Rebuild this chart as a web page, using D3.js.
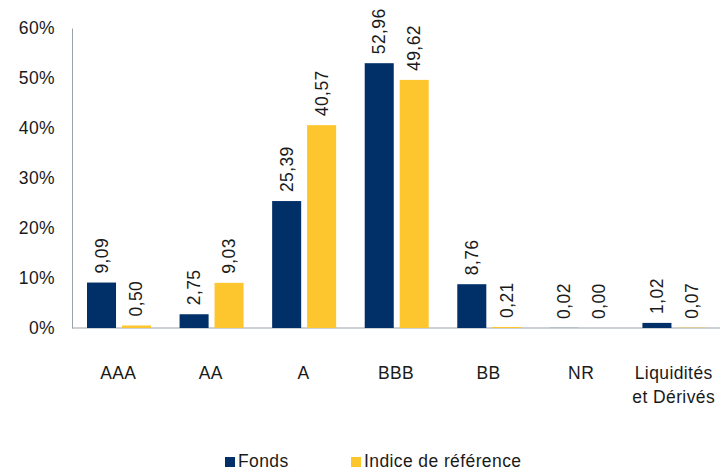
<!DOCTYPE html>
<meta charset="utf-8">
<head>
<style>
  body { margin:0; background:#fff; }
  text { font-family: Arial, "Liberation Sans", sans-serif; fill:#1a1a1a; letter-spacing: 0.4px; }
</style>
<script src="https://d3js.org/d3.v7.min.js"></script>
</head>
<body>
<script>
var categories = ["AAA", "AA", "A", "BBB", "BB", "NR", "Liquidités\net Dérivés"];
var fonds = [9.09, 2.75, 25.39, 52.96, 8.76, 0.02, 1.02];
var indice = [0.50, 9.03, 40.57, 49.62, 0.21, 0.00, 0.07];
var yTicks = [0, 10, 20, 30, 40, 50, 60];
var seriesNames = ["Fonds", "Indice de référence"];
var colors = ["#013068", "#FDC52E"];

var width = 722, height = 470;
var fs = "17.5px";
var svg = d3.select("body").append("svg")
    .attr("width", width).attr("height", height);

var x = d3.scaleBand().domain(categories).range([72, 720]).paddingInner(0).paddingOuter(0);
var inner = d3.scaleBand().domain([0, 1]).range([15, 79]).paddingInner(0.17);
var y = d3.scaleLinear().domain([0, 60]).range([328, 28]);

// y axis
var yAxis = d3.axisLeft(y).tickValues(yTicks).tickSize(0).tickPadding(17)
    .tickFormat(function(d) { return d + "%"; });
var yg = svg.append("g").attr("transform", "translate(72,0)").call(yAxis);
yg.attr("font-family", null).attr("font-size", null);
yg.select(".domain").attr("stroke", "#9aa3ab");
yg.selectAll("text").style("font-size", fs).attr("fill", "#1a1a1a");

// x axis line
svg.append("line").attr("x1", 72).attr("x2", 720).attr("y1", y(0)).attr("y2", y(0))
    .attr("stroke", "#9aa3ab");

var data = categories.map(function(c, i) { return {cat: c, vals: [fonds[i], indice[i]]}; });

var groups = svg.selectAll(".cat").data(data).enter().append("g")
    .attr("transform", function(d) { return "translate(" + x(d.cat) + ",0)"; });

groups.selectAll("rect").data(function(d) { return d.vals; }).enter().append("rect")
    .attr("x", function(d, i) { return inner(i); })
    .attr("width", inner.bandwidth())
    .attr("y", function(d) { return y(d); })
    .attr("height", function(d) { return y(0) - y(d); })
    .attr("fill", function(d, i) { return colors[i]; });

groups.selectAll(".lbl").data(function(d) { return d.vals; }).enter().append("text")
    .attr("class", "lbl")
    .attr("transform", function(d, i) {
        return "translate(" + (inner(i) + inner.bandwidth() / 2 + 6) + "," + (y(d) - 9) + ") rotate(-90)";
    })
    .style("font-size", fs)
    .text(function(d) { return d.toFixed(2).replace(".", ","); });

// category labels
groups.append("text")
    .attr("x", x.bandwidth() / 2)
    .attr("y", 379)
    .attr("text-anchor", "middle")
    .style("font-size", fs)
    .each(function(d) {
        var lines = d.cat.split("\n");
        var t = d3.select(this);
        lines.forEach(function(l, k) {
            t.append("tspan").attr("x", x.bandwidth() / 2).attr("dy", k ? 24 : 0).text(l);
        });
    });

// legend
var legX = [225, 351];
var leg = svg.selectAll(".leg").data(seriesNames).enter().append("g")
    .attr("transform", function(d, i) { return "translate(" + legX[i] + ",457)"; });
leg.append("rect").attr("width", 10).attr("height", 10)
    .attr("fill", function(d, i) { return colors[i]; });
leg.append("text").attr("x", 13).attr("y", 10).style("font-size", fs)
    .text(function(d) { return d; });
</script>
</body>
